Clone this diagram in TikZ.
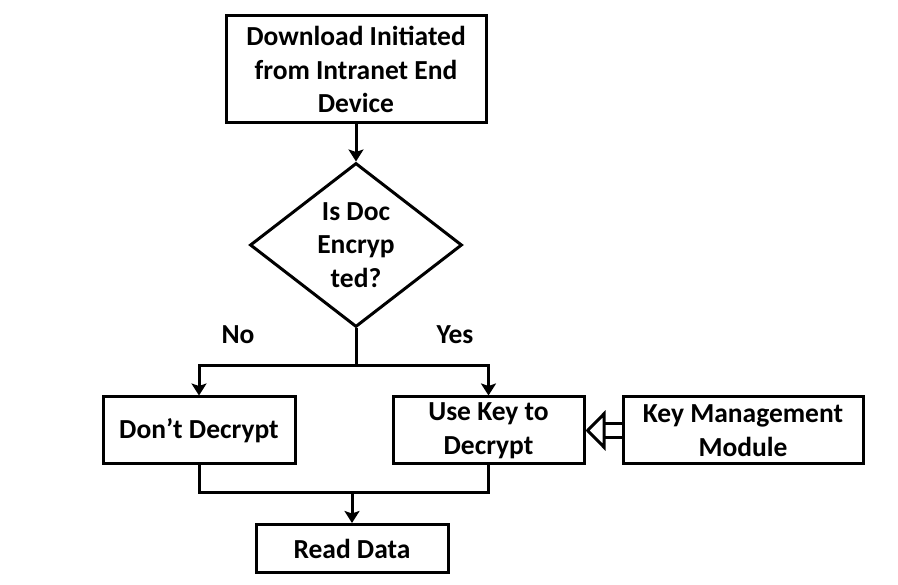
\documentclass[tikz,border=0pt]{standalone}
\usepackage{fontspec}
\setmainfont{Carlito}
\usetikzlibrary{arrows.meta,positioning,shapes.geometric}
\tikzset{
  lepes/.style={draw,line width=3pt,fill=white,align=center,inner sep=2pt},
  dontes/.style={draw,diamond,line width=3pt,align=center,inner sep=0pt,aspect=1.3,
                 minimum width=212pt,minimum height=164pt},
  nyil/.style={-{Stealth[length=12pt,width=15pt,inset=2.5pt]},line width=3pt},
  vonal/.style={line width=3pt},
  kettos/.style={double,double distance=11pt,line width=3pt,
                 -{Triangle[open,length=20pt,width=40pt,line width=3pt]}},
  cimke/.style={inner sep=1pt},
}
\begin{document}
\begin{tikzpicture}[x=1pt,y=1pt,font=\bfseries\fontsize{27.5}{33.5}\selectfont]
  \useasboundingbox (0,0) rectangle (898,-585);
  \node[lepes,minimum width=260pt,minimum height=107pt] (dl) at (356,-69.5) {Download Initiated\\from Intranet End\\Device};
  \node[dontes,below=37pt of dl] (enc) {Is Doc\\Encryp\\ted?};
  \coordinate[below=37pt of enc] (ag);
  \node[lepes,minimum width=192pt,minimum height=67pt] (nodec) at (199,-430.5) {Don't Decrypt};
  \node[lepes,minimum width=191pt,minimum height=67pt,right=95pt of nodec] (kulcs) {Use Key to\\Decrypt};
  \node[lepes,minimum width=240pt,minimum height=67pt,right=36pt of kulcs] (kms) {Key Management\\Module};
  \coordinate (ossz) at (352,-493);
  \node[lepes,minimum width=192pt,minimum height=48pt,below=30pt of ossz] (read) {Read Data};
  \node[cimke] (nem) at (238,-335) {No};
  \node[cimke] (igen) at (455,-335) {Yes};
  % kapcsolatok
  \draw[nyil] (dl) -- (enc);
  \draw[vonal] (enc.south) -- (ag);
  \draw[nyil] (ag) -| (nodec.north);
  \draw[nyil] (ag) -| (kulcs.north);
  \draw[vonal] (nodec.south) |- (ossz);
  \draw[vonal] (kulcs.south) |- (ossz);
  \draw[nyil] (ossz) -- (read);
  \draw[kettos] (kms) -- (kulcs);
\end{tikzpicture}
\end{document}
